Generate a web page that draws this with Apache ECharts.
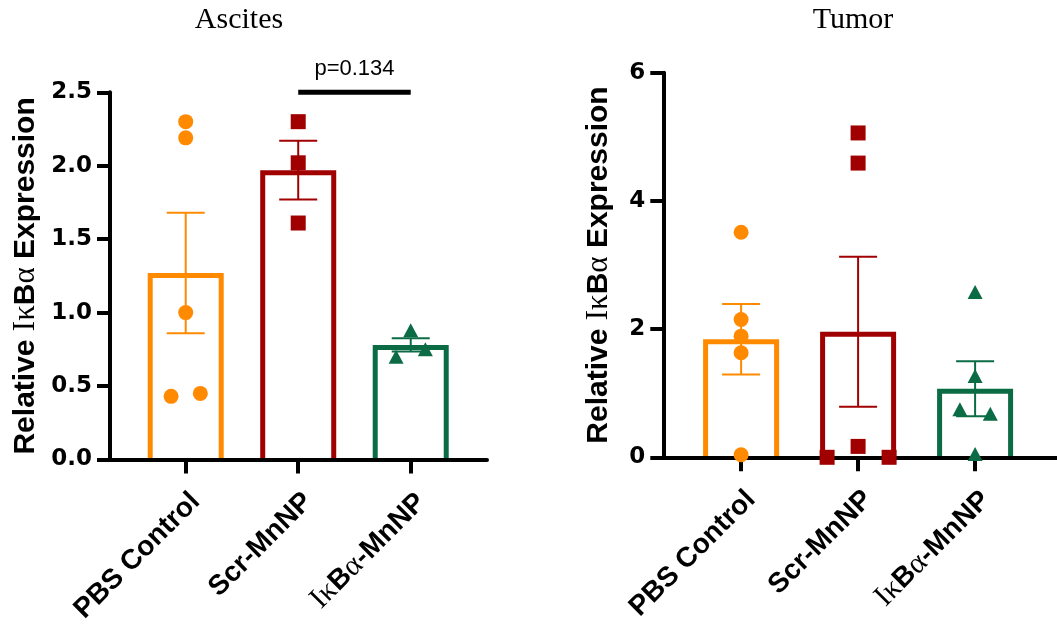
<!DOCTYPE html>
<html>
<head>
<meta charset="utf-8">
<title>Relative IκBα Expression</title>
<script src="https://cdn.jsdelivr.net/npm/echarts@6/dist/echarts.min.js"></script>
<style>
  html, body { margin: 0; padding: 0; background: #ffffff; }
  #chart { width: 1057px; height: 626px; }
</style>
</head>
<body>
<div id="chart"></div>
<script>
// Groups on the x axis
const categories = ['PBS Control', 'Scr-MnNP', 'IκBα-MnNP'];

// Ascites: individual replicates per group
const ascitesPBS = [2.30, 2.19, 1.00, 0.43, 0.45];
const ascitesScr = [2.30, 2.02, 1.61];
const ascitesIkb = [0.88, 0.70, 0.75];
// Ascites: group mean and SEM
const ascitesMean = [1.27, 1.97, 0.78];
const ascitesSem = [0.41, 0.20, 0.045];

// Tumor: individual replicates per group
const tumorPBS = [3.51, 2.15, 1.89, 1.63, 0.04];
const tumorScr = [5.06, 4.59, 0.17, 0.00, 0.00];
const tumorIkb = [2.58, 1.27, 0.75, 0.68, 0.05];
// Tumor: group mean and SEM
const tumorMean = [1.84, 1.96, 1.07];
const tumorSem = [0.55, 1.17, 0.43];

// Axis ticks
const ascitesTicks = [0, 0.5, 1.0, 1.5, 2.0, 2.5];
const tumorTicks = [0, 2, 4, 6];

// Comparison annotation on the ascites panel
const ascitesCompare = { from: 1, to: 2, level: 2.5, text: 'p=0.134' };

const panelTitles = ['Ascites', 'Tumor'];
const yTitle = '{b|Relative }{g|Iκ}{b|B}{g|α}{b| Expression}';

// ---- styling ----
const colors = ['#FF8A00', '#A00000', '#0B6B45'];
const symbols = ['circle', 'rect', 'triangle'];
const symbolSizes = [15, 15, [15, 14]];
const SANS = '"Liberation Sans", Arial, Helvetica, sans-serif';
const SERIF = '"Liberation Serif", "Times New Roman", serif';
const TICKFONT = '"DejaVu Sans", "Liberation Sans", Arial, sans-serif';
const BAR_OUTER = 76;   // outer width of the outlined bars, px
const BAR_LINE = 5;     // outline thickness, px

// horizontal spread of replicate points within a group (category units)
const spreadAscites = [[0, 0, 0, -0.13, 0.13], [0, 0, 0], [0, -0.13, 0.13]];
const spreadTumor = [[0, 0, 0, 0, 0], [0, 0, 0, -0.265, 0.265], [0, 0, -0.13, 0.13, 0]];

const chart = echarts.init(document.getElementById('chart'), null, { renderer: 'canvas' });

const catRich = {
  b: { fontFamily: SANS, fontWeight: 'bold', fontSize: 28, color: '#000' },
  g: { fontFamily: SERIF, fontWeight: 'normal', fontSize: 30, color: '#000' }
};
function catLabel(v) {
  const i = Math.round(v);
  if (i === 2) return '{g|Iκ}{b|B}{g|α}{b|-MnNP}';
  return '{b|' + categories[i] + '}';
}

function makeXAxis(gridIndex, min, max) {
  return {
    type: 'value', gridIndex: gridIndex, min: min, max: max, z: 3,
    splitLine: { show: false },
    axisLine: { show: true, onZero: false, lineStyle: { color: '#000', width: 4 } },
    axisTick: { show: true, customValues: [0, 1, 2], length: 14, lineStyle: { color: '#000', width: 4 } },
    axisLabel: {
      show: true, customValues: [0, 1, 2], rotate: 45, margin: 28,
      verticalAlign: 'top', formatter: catLabel, rich: catRich
    }
  };
}

function makeYAxis(gridIndex, max, interval, fmt, gap) {
  return {
    type: 'value', gridIndex: gridIndex, min: 0, max: max, interval: interval, z: 3,
    splitLine: { show: false },
    axisLine: { show: true, onZero: false, lineStyle: { color: '#000', width: 4 } },
    axisTick: { show: true, length: 13, lineStyle: { color: '#000', width: 4 } },
    axisLabel: {
      margin: 18, formatter: fmt, color: '#000',
      fontFamily: TICKFONT, fontWeight: 'bold', fontSize: 23
    },
    name: yTitle, nameLocation: 'middle', nameRotate: 90, nameGap: gap,
    nameTextStyle: {
      color: '#000', fontSize: 30,
      rich: {
        b: { fontFamily: SANS, fontWeight: 'bold', fontSize: 30, color: '#000' },
        g: { fontFamily: SERIF, fontWeight: 'normal', fontSize: 31, color: '#000' }
      }
    }
  };
}

// Open-bottom outlined bars: outer edge of the top stroke sits at the mean
function barSeries(axisIndex, means) {
  return {
    type: 'custom', xAxisIndex: axisIndex, yAxisIndex: axisIndex, z: 1, silent: true, clip: false,
    data: means.map(function (m, i) { return [i, m]; }),
    renderItem: function (params, api) {
      const top = api.coord([api.value(0), api.value(1)]);
      const base = api.coord([api.value(0), 0]);
      const h = BAR_LINE / 2;
      const l = top[0] - BAR_OUTER / 2 + h;
      const r = top[0] + BAR_OUTER / 2 - h;
      const t = top[1] + h;
      return {
        type: 'polyline',
        shape: { points: [[l, base[1]], [l, t], [r, t], [r, base[1]]] },
        style: { stroke: colors[params.dataIndex], lineWidth: BAR_LINE, fill: null, lineJoin: 'miter' }
      };
    }
  };
}

function errorSeries(axisIndex, means, sems) {
  return {
    type: 'custom', xAxisIndex: axisIndex, yAxisIndex: axisIndex, z: 2, silent: true, clip: false,
    data: means.map(function (m, i) { return [i, m, sems[i]]; }),
    renderItem: function (params, api) {
      const x = api.value(0), m = api.value(1), s = api.value(2);
      const top = api.coord([x, m + s]);
      const bot = api.coord([x, m - s]);
      const half = 19;
      const st = { stroke: colors[params.dataIndex], lineWidth: 2 };
      return {
        type: 'group',
        children: [
          { type: 'line', shape: { x1: top[0], y1: top[1], x2: bot[0], y2: bot[1] }, style: st },
          { type: 'line', shape: { x1: top[0] - half, y1: top[1], x2: top[0] + half, y2: top[1] }, style: st },
          { type: 'line', shape: { x1: bot[0] - half, y1: bot[1], x2: bot[0] + half, y2: bot[1] }, style: st }
        ]
      };
    }
  };
}

function pointSeries(axisIndex, group, values, spread) {
  return {
    type: 'scatter', xAxisIndex: axisIndex, yAxisIndex: axisIndex, z: 4, silent: true, clip: false,
    symbol: symbols[group], symbolSize: symbolSizes[group],
    itemStyle: { color: colors[group], opacity: 1 },
    data: values.map(function (v, k) { return [group + spread[k], v]; })
  };
}

const compareSeries = {
  type: 'custom', xAxisIndex: 0, yAxisIndex: 0, z: 5, silent: true, clip: false,
  data: [[ascitesCompare.from, ascitesCompare.to, ascitesCompare.level]],
  renderItem: function (params, api) {
    const a = api.coord([api.value(0), api.value(2)]);
    const b = api.coord([api.value(1), api.value(2)]);
    return {
      type: 'group',
      children: [
        { type: 'line', shape: { x1: a[0], y1: a[1], x2: b[0], y2: b[1] }, style: { stroke: '#000', lineWidth: 5 } },
        {
          type: 'text', x: (a[0] + b[0]) / 2, y: a[1] - 23,
          style: {
            text: ascitesCompare.text, fill: '#000', fontFamily: SANS, fontSize: 22,
            align: 'center', verticalAlign: 'middle'
          }
        }
      ]
    };
  }
};

const option = {
  backgroundColor: '#ffffff',
  animation: false,
  grid: [
    { left: 110, top: 92.3, width: 377, height: 367.7, containLabel: false },
    { left: 663.3, top: 72.7, width: 400, height: 384.6, containLabel: false }
  ],
  xAxis: [makeXAxis(0, -0.673, 2.678), makeXAxis(1, -0.665, 2.70)],
  yAxis: [
    makeYAxis(0, 2.5, 0.5, function (v) { return v.toFixed(1); }, 69),
    makeYAxis(1, 6, 2, function (v) { return String(v); }, 49)
  ],
  graphic: [
    { type: 'text', x: 239, y: 20, style: { text: panelTitles[0], fill: '#000', fontFamily: SERIF, fontSize: 30, align: 'center', verticalAlign: 'middle' } },
    { type: 'text', x: 853, y: 20, style: { text: panelTitles[1], fill: '#000', fontFamily: SERIF, fontSize: 30, align: 'center', verticalAlign: 'middle' } }
  ],
  series: [
    barSeries(0, ascitesMean),
    errorSeries(0, ascitesMean, ascitesSem),
    pointSeries(0, 0, ascitesPBS, spreadAscites[0]),
    pointSeries(0, 1, ascitesScr, spreadAscites[1]),
    pointSeries(0, 2, ascitesIkb, spreadAscites[2]),
    compareSeries,
    barSeries(1, tumorMean),
    errorSeries(1, tumorMean, tumorSem),
    pointSeries(1, 0, tumorPBS, spreadTumor[0]),
    pointSeries(1, 1, tumorScr, spreadTumor[1]),
    pointSeries(1, 2, tumorIkb, spreadTumor[2])
  ]
};

chart.setOption(option);
</script>
</body>
</html>
